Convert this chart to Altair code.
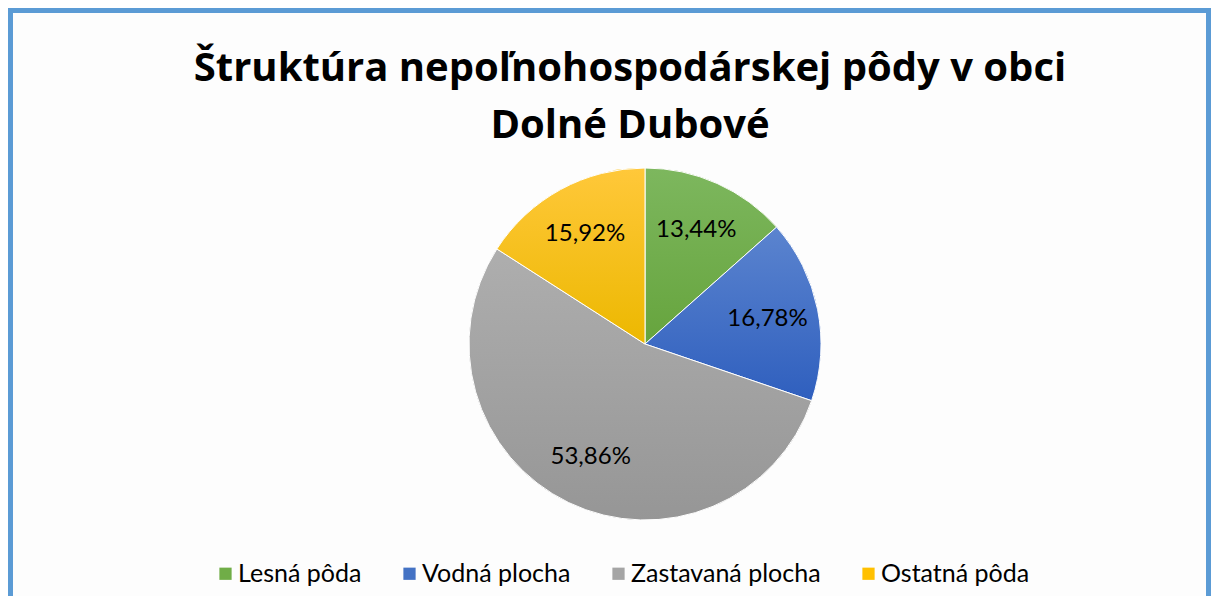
import altair as alt
import pandas as pd

categories = ["Lesná pôda", "Vodná plocha", "Zastavaná plocha", "Ostatná pôda"]
values = [13.44, 16.78, 53.86, 15.92]
colors = ["#70AD47", "#4472C4", "#A5A5A5", "#FFC000"]
grad_top = ["#7DB75E", "#5B84CF", "#AEAEAE", "#FFC83A"]
grad_bottom = ["#66A43D", "#2F5FBE", "#969696", "#ECB800"]
title_lines = ["Štruktúra nepoľnohospodárskej pôdy v obci", "Dolné Dubové"]

W, H = 1203, 588
CX, CY, R = 637, 336, 176

df = pd.DataFrame({
    "kategoria": categories,
    "hodnota": values,
    "poradie": list(range(len(categories))),
    "label": [f"{v:.2f}%".replace(".", ",") for v in values],
})


def grad(top, bottom):
    return {
        "gradient": "linear", "x1": 0, "y1": 0, "x2": 0, "y2": 1,
        "stops": [{"offset": 0, "color": top}, {"offset": 1, "color": bottom}],
    }


grads = [grad(t, b) for t, b in zip(grad_top, grad_bottom)]
fill_def = {
    "condition": [
        {"test": f"datum.kategoria === '{c}'", "value": g}
        for c, g in zip(categories[:-1], grads[:-1])
    ],
    "value": grads[-1],
}

theta = alt.Theta("hodnota:Q", stack=True)
order = alt.Order("poradie:O")
color = alt.Color(
    "kategoria:N",
    scale=alt.Scale(domain=categories, range=colors),
    sort=categories,
    legend=alt.Legend(
        title=None,
        orient="none",
        direction="horizontal",
        columns=4,
        legendX=205,
        legendY=553,
        symbolType="square",
        symbolSize=150,
        symbolStrokeWidth=0,
        symbolOpacity=1,
        labelFont="Lato",
        labelFontSize=25,
        labelColor="#000000",
        labelOffset=0,
        columnPadding=35,
        labelLimit=400,
    ),
)

base = alt.Chart(df)

pie = base.mark_arc(outerRadius=R).encode(
    theta=theta, order=order, color=color,
    x=alt.value(CX), y=alt.value(CY),
)

pie_grad = base.mark_arc(outerRadius=R, stroke="white", strokeWidth=1).encode(
    theta=theta, order=order, fill=fill_def,
    x=alt.value(CX), y=alt.value(CY),
)

labels = base.mark_text(radius=125, font="Lato", fontSize=24, color="#000000").encode(
    theta=theta, order=order, text="label:N",
    x=alt.value(CX), y=alt.value(CY),
)

frame = alt.Chart(pd.DataFrame({"a": [0]})).mark_rect(
    fill="#FDFDFD", stroke="#5B9BD5", strokeWidth=5
).encode(
    x=alt.value(2.5), x2=alt.value(W - 2.5), y=alt.value(2.5), y2=alt.value(H + 40)
)

tdf = pd.DataFrame({"t": title_lines})
title1 = alt.Chart(tdf.iloc[[0]]).mark_text(
    font="Open Sans", fontWeight="bold", fontSize=40, color="#000000", baseline="alphabetic"
).encode(text="t:N", x=alt.value(622), y=alt.value(73))
title2 = alt.Chart(tdf.iloc[[1]]).mark_text(
    font="Open Sans", fontWeight="bold", fontSize=40, color="#000000", baseline="alphabetic"
).encode(text="t:N", x=alt.value(622), y=alt.value(130))

chart = alt.layer(frame, pie, pie_grad, labels, title1, title2).properties(
    width=W, height=H, autosize=alt.AutoSizeParams(type="none"), padding=0,
    background="white",
).configure_view(stroke=None)

chart.save("out.html", embed_options={"renderer": "svg", "actions": False})
